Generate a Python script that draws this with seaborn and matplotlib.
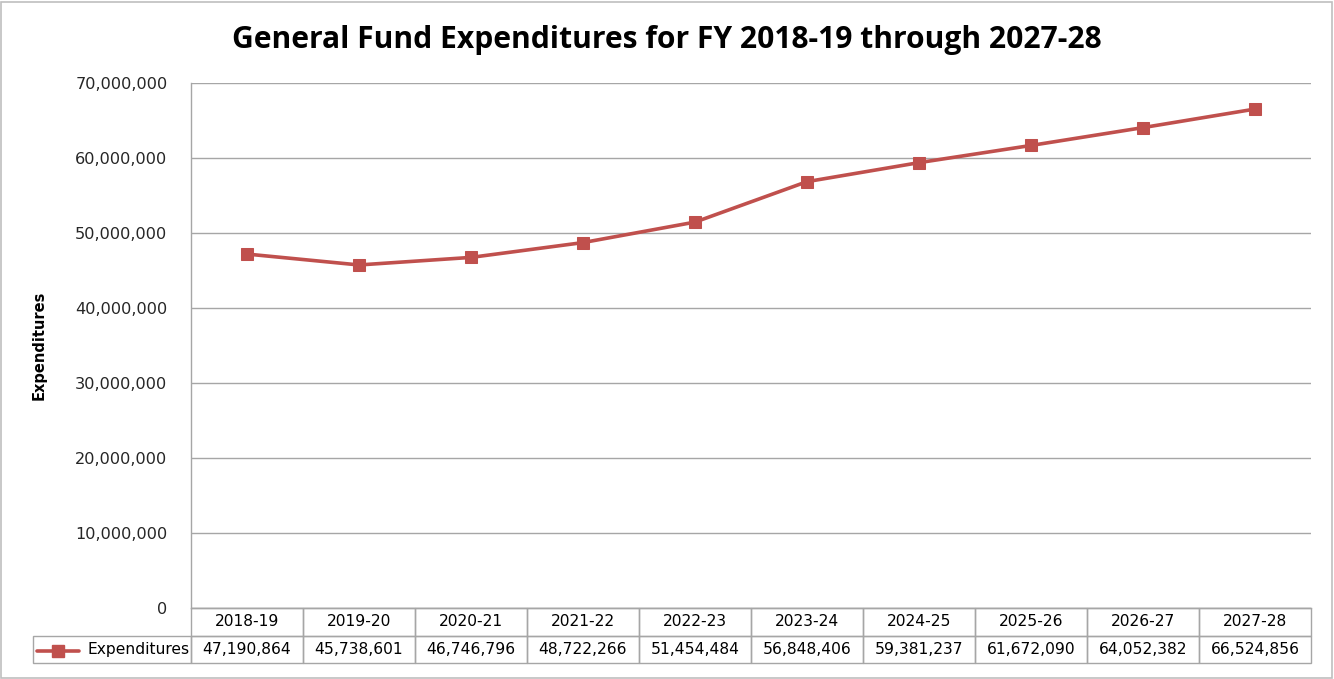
"""General Fund expenditures, FY 2018-19 through 2027-28 (Excel-style line chart with data table)."""

import matplotlib

matplotlib.use("Agg")

import matplotlib.pyplot as plt
import pandas as pd
import seaborn as sns
from matplotlib.lines import Line2D
from matplotlib.ticker import FuncFormatter

PERIODS = ["2018-19", "2019-20", "2020-21", "2021-22", "2022-23",
           "2023-24", "2024-25", "2025-26", "2026-27", "2027-28"]
EXPENDITURES = [47190864, 45738601, 46746796, 48722266, 51454484,
                56848406, 59381237, 61672090, 64052382, 66524856]
SERIES = "Expenditures"

RED = "#c0504d"
GRID = "#a6a6a6"
TEXT = "#262626"

sns.set_theme(style="white")
plt.rcParams["font.family"] = ["DejaVu Sans"]

df = pd.DataFrame({"period": PERIODS, "value": EXPENDITURES})
df["pos"] = range(len(df))

W, H = 1334, 679
fig = plt.figure(figsize=(W / 100, H / 100), dpi=100)
# plot area in pixels: x 191..1311, y 83..608
ax = fig.add_axes([191 / W, 1 - 608 / H, 1120 / W, 525 / H])

sns.lineplot(data=df, x="pos", y="value", ax=ax, color=RED, lw=2.6,
             marker="s", markersize=8.5, markeredgecolor=RED, zorder=3)

ax.set_xlim(-0.5, len(PERIODS) - 0.5)
ax.set_ylim(0, 70_000_000)
ax.set_yticks(range(0, 70_000_001, 10_000_000))
ax.yaxis.set_major_formatter(FuncFormatter(lambda v, _: f"{v:,.0f}"))
ax.tick_params(axis="y", length=0, pad=17, labelsize=11.6, labelcolor=TEXT)
ax.set_xticks([])
ax.set_xlabel("")
ax.set_ylabel("Expenditures", fontsize=10.5, fontweight="bold", color="black")
ax.yaxis.set_label_coords(-144 / 1120, 0.5)
ax.grid(axis="y", color=GRID, lw=1)
for side in ("top", "right"):
    ax.spines[side].set_visible(False)
for side in ("left", "bottom"):
    ax.spines[side].set_color(GRID)
    ax.spines[side].set_linewidth(1)

# data table under the axis (label column 158 px, data columns 112 px each)
label_w, col_w = 158, 112
widths = [label_w] + [col_w] * len(PERIODS)
total_w = sum(widths)
tbl = ax.table(
    cellText=[[SERIES] + [f"{v:,}" for v in EXPENDITURES]],
    colLabels=[""] + PERIODS,
    colWidths=[w / total_w for w in widths],
    cellLoc="center",
    bbox=[-label_w / 1120, -55 / 525, total_w / 1120, 55 / 525],
)
tbl.auto_set_font_size(False)
for (r, c), cell in tbl.get_celld().items():
    cell.set_edgecolor(GRID)
    cell.set_linewidth(1)
    cell.set_facecolor("none")
    cell.get_text().set_fontsize(11.2)
    cell.get_text().set_color("black")
    if r == 0 and c == 0:
        cell.visible_edges = ""
label_cell = tbl[1, 0]
label_cell.get_text().set_horizontalalignment("right")
label_cell._loc = "right"
label_cell.PAD = 0.01

# legend key inside the label cell
fig.add_artist(Line2D([37 / W, 79 / W], [1 - 651 / H] * 2, color=RED, lw=2.6))
fig.add_artist(Line2D([58 / W], [1 - 651 / H], color=RED, marker="s", markersize=8.5))

fig.suptitle("General Fund Expenditures for FY 2018-19 through 2027-28",
             x=0.5, y=1 - 25 / H, va="top", fontsize=21.6, fontweight="bold",
             family=["Open Sans", "DejaVu Sans"], color="black")

# chart border
fig.add_artist(plt.Rectangle((1 / W, 1 / H), 1 - 3 / W, 1 - 3 / H, transform=fig.transFigure,
                             fill=False, edgecolor="#bfbfbf", lw=1.2))

fig.savefig("out.png", dpi=100, facecolor="white")
